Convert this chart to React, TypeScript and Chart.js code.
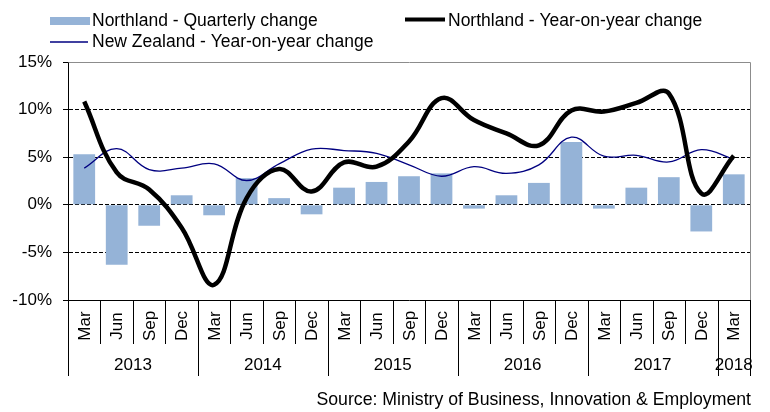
import React, { useEffect, useRef } from 'react';
import { Chart, registerables } from 'chart.js';

Chart.register(...registerables);

const quarters = ['Mar', 'Jun', 'Sep', 'Dec', 'Mar', 'Jun', 'Sep', 'Dec', 'Mar', 'Jun', 'Sep', 'Dec', 'Mar', 'Jun', 'Sep', 'Dec', 'Mar', 'Jun', 'Sep', 'Dec', 'Mar'];
const years = ['2013', '2014', '2015', '2016', '2017', '2018'];
const quartersPerYear = [4, 4, 4, 4, 4, 1];

const northlandQuarterly = [5.3, -6.3, -2.2, 1.0, -1.1, 2.8, 0.7, -1.0, 1.8, 2.4, 3.0, 3.3, -0.4, 1.0, 2.3, 6.6, -0.4, 1.8, 2.9, -2.8, 3.2];
const northlandYoY = [10.85, 3.4, 1.6, -2.4, -8.4, 0.7, 3.75, 1.4, 4.45, 4.0, 6.65, 11.2, 8.9, 7.5, 6.25, 9.9, 9.8, 10.7, 11.7, 1.2, 5.15];
const nzYoY = [3.85, 5.9, 3.7, 3.85, 4.3, 2.55, 4.3, 5.85, 5.7, 5.4, 4.2, 3.0, 4.0, 3.3, 4.2, 7.1, 5.1, 5.2, 4.5, 5.8, 4.8];

const yMin = -10;
const yMax = 15;
const yStep = 5;

const seriesNames = ['Northland - Quarterly change', 'Northland - Year-on-year change', 'New Zealand - Year-on-year change'];
const sourceText = 'Source: Ministry of Business, Innovation & Employment';

const BAR_COLOR = '#95B3D7';
const NZ_COLOR = '#000080';
const FONT = '"Liberation Sans", Arial, sans-serif';

const decorPlugin = {
  id: 'decor',
  afterDraw(chart: any) {
    const { ctx, chartArea } = chart;
    const { left, right, top, bottom } = chartArea;
    const xs = chart.scales.x;
    const step = xs.getPixelForValue(1) - xs.getPixelForValue(0);
    const start = xs.getPixelForValue(0) - step / 2;
    const n = quarters.length;
    const snap = (v: number) => Math.round(v) + 0.5;

    ctx.save();
    // plot frame (top and right) in gray
    ctx.strokeStyle = '#8c8c8c';
    ctx.lineWidth = 1;
    ctx.beginPath();
    ctx.moveTo(snap(left), snap(top));
    ctx.lineTo(snap(right), snap(top));
    ctx.lineTo(snap(right), snap(bottom));
    ctx.stroke();

    // year boundaries
    const yearBounds: number[] = [0];
    quartersPerYear.forEach((q) => yearBounds.push(yearBounds[yearBounds.length - 1] + q));

    const monthSepBottom = bottom + 44;
    const yearSepBottom = bottom + 76;
    ctx.strokeStyle = '#000';
    ctx.beginPath();
    for (let i = 0; i <= n; i++) {
      const x = snap(start + i * step);
      const isYear = yearBounds.includes(i);
      ctx.moveTo(x, bottom);
      ctx.lineTo(x, isYear ? yearSepBottom : monthSepBottom);
    }
    ctx.stroke();

    // month labels
    ctx.fillStyle = '#000';
    ctx.font = `17px ${FONT}`;
    ctx.textAlign = 'center';
    ctx.textBaseline = 'middle';
    for (let i = 0; i < n; i++) {
      const cx = xs.getPixelForValue(i);
      ctx.save();
      ctx.translate(cx + 1, bottom + 26);
      ctx.rotate(-Math.PI / 2);
      ctx.fillText(quarters[i], 0, 0);
      ctx.restore();
    }

    // year labels
    for (let y = 0; y < years.length; y++) {
      const x0 = start + yearBounds[y] * step;
      const x1 = start + yearBounds[y + 1] * step;
      ctx.fillText(years[y], (x0 + x1) / 2, bottom + 65);
    }

    // source
    ctx.textAlign = 'right';
    ctx.font = `17.7px ${FONT}`;
    ctx.fillText(sourceText, right + 1, bottom + 100);

    // legend
    ctx.textAlign = 'left';
    ctx.font = `17.5px ${FONT}`;
    ctx.fillStyle = BAR_COLOR;
    ctx.fillRect(50, 17, 40, 8);
    ctx.fillStyle = '#000';
    ctx.fillText(seriesNames[0], 92, 21);

    ctx.strokeStyle = '#000';
    ctx.lineWidth = 4;
    ctx.beginPath();
    ctx.moveTo(405, 19.5);
    ctx.lineTo(445, 19.5);
    ctx.stroke();
    ctx.fillText(seriesNames[1], 448, 21);

    ctx.strokeStyle = NZ_COLOR;
    ctx.lineWidth = 1.5;
    ctx.beginPath();
    ctx.moveTo(50, 42);
    ctx.lineTo(88, 42);
    ctx.stroke();
    ctx.fillText(seriesNames[2], 92, 42);

    ctx.restore();
  },
};

export default function App() {
  const canvasRef = useRef<HTMLCanvasElement | null>(null);

  useEffect(() => {
    document.body.style.margin = '0';
    const canvas = canvasRef.current;
    if (!canvas) return;
    const chart = new Chart(canvas, {
      type: 'bar',
      data: {
        labels: quarters,
        datasets: [
          {
            type: 'line',
            label: seriesNames[1],
            data: northlandYoY,
            borderColor: '#000',
            borderWidth: 4.5,
            pointRadius: 0,
            tension: 0.4,
            fill: false,
            order: 1,
          },
          {
            type: 'line',
            label: seriesNames[2],
            data: nzYoY,
            borderColor: NZ_COLOR,
            borderWidth: 1.3,
            pointRadius: 0,
            tension: 0.4,
            fill: false,
            order: 2,
          },
          {
            type: 'bar',
            label: seriesNames[0],
            data: northlandQuarterly,
            backgroundColor: BAR_COLOR,
            barPercentage: 0.67,
            categoryPercentage: 1,
            order: 3,
          },
        ] as any,
      },
      options: {
        responsive: false,
        animation: false,
        layout: { padding: { top: 62, right: 20, left: 0, bottom: 0 } },
        plugins: {
          legend: { display: false },
          tooltip: { enabled: false },
        },
        scales: {
          x: {
            type: 'category',
            offset: true,
            grid: { display: false },
            ticks: { display: false },
            border: { display: true, color: '#000', width: 1 },
            afterFit: (scale: any) => {
              scale.height = 112;
            },
          },
          y: {
            min: yMin,
            max: yMax,
            ticks: {
              stepSize: yStep,
              padding: 11,
              color: '#000',
              font: { family: FONT, size: 17 },
              callback: (v: any) => `${v}%`,
            },
            grid: {
              color: (c: any) => (c.tick && (c.tick.value === yMax || c.tick.value === yMin) ? 'rgba(0,0,0,0)' : '#000'),
              lineWidth: 1,
              tickLength: 5,
              tickColor: '#000',
              tickBorderDash: [],
            },
            border: { display: true, color: '#000', width: 1, dash: [4, 2] },
            afterFit: (scale: any) => {
              scale.width = 68;
            },
          },
        },
      } as any,
      plugins: [decorPlugin],
    });
    return () => chart.destroy();
  }, []);

  return (
    <div style={{ position: 'absolute', left: 0, top: 0, width: 770, height: 412 }}>
      <canvas ref={canvasRef} width={770} height={412} style={{ width: 770, height: 412 }} />
    </div>
  );
}
